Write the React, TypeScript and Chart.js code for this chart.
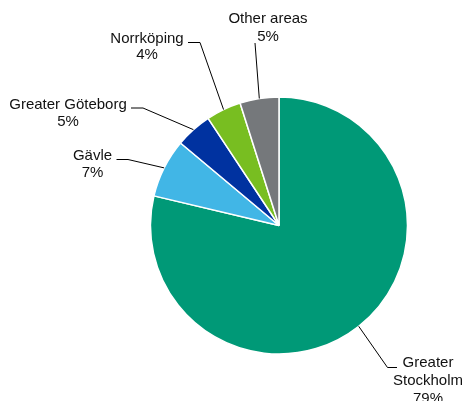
import React, { useEffect, useRef } from "react";
import { Chart, registerables } from "chart.js";

Chart.register(...registerables);

const categories = ["Greater Stockholm", "Gävle", "Greater Göteborg", "Norrköping", "Other areas"];
const labelLines = [["Greater", "Stockholm"], ["Gävle"], ["Greater Göteborg"], ["Norrköping"], ["Other areas"]];
const shares = [78.7, 7.4, 4.6, 4.4, 4.9];
const colors = ["#009977", "#41B6E6", "#0032A0", "#78BE21", "#75787B"];

// label layout: text center x, first line center y, line spacing, elbow point, horizontal end x
const labelLayout = [
  { tx: 428, ty: 362.5, lh: 18.4, ex: 387.5, ey: 367.5, hx: 397 },
  { tx: 92.5, ty: 156, lh: 16.8, ex: 128, ey: 159.5, hx: 116.5 },
  { tx: 68, ty: 104.5, lh: 17.2, ex: 143, ey: 108, hx: 131 },
  { tx: 147, ty: 38.5, lh: 16.8, ex: 200, ey: 42.5, hx: 188 },
  { tx: 268, ty: 19, lh: 17.5, ex: 255, ey: 43, hx: 255 },
];

const FONT = "15px 'Liberation Sans', Arial, sans-serif";

const labelPlugin = {
  id: "pieLabels",
  afterDraw(chart: any) {
    const ctx = chart.ctx;
    const meta = chart.getDatasetMeta(0);
    ctx.save();
    ctx.font = FONT;
    ctx.fillStyle = "#111111";
    ctx.textAlign = "center";
    ctx.textBaseline = "middle";
    ctx.strokeStyle = "#000000";
    ctx.lineWidth = 1;
    meta.data.forEach((arc: any, i: number) => {
      const p = arc.getProps(["x", "y", "startAngle", "endAngle", "outerRadius"], true);
      const mid = (p.startAngle + p.endAngle) / 2;
      const sx = p.x + Math.cos(mid) * p.outerRadius;
      const sy = p.y + Math.sin(mid) * p.outerRadius;
      const L = labelLayout[i];
      ctx.beginPath();
      ctx.moveTo(sx, sy);
      ctx.lineTo(L.ex, L.ey);
      ctx.lineTo(L.hx, L.ey);
      ctx.stroke();
      const lines = [...labelLines[i], Math.round(shares[i]) + "%"];
      lines.forEach((t, k) => ctx.fillText(t, L.tx, L.ty + k * L.lh));
    });
    ctx.restore();
  },
};

export default function App() {
  const ref = useRef<HTMLCanvasElement>(null);
  useEffect(() => {
    if (!ref.current) return;
    const chart = new Chart(ref.current, {
      type: "pie",
      data: {
        labels: categories,
        datasets: [
          {
            data: shares,
            backgroundColor: colors,
            borderColor: "#ffffff",
            borderWidth: 1.5,
          },
        ],
      },
      options: {
        animation: false,
        responsive: false,
        layout: { padding: { left: 149.75, right: 56.75, top: 96.25, bottom: 46.25 } },
        plugins: { legend: { display: false }, tooltip: { enabled: false } },
      },
      plugins: [labelPlugin],
    });
    return () => chart.destroy();
  }, []);
  return (
    <div style={{ position: "absolute", left: 0, top: 0, width: 465, height: 401, background: "#fff" }}>
      <canvas ref={ref} width={465} height={401} />
    </div>
  );
}
